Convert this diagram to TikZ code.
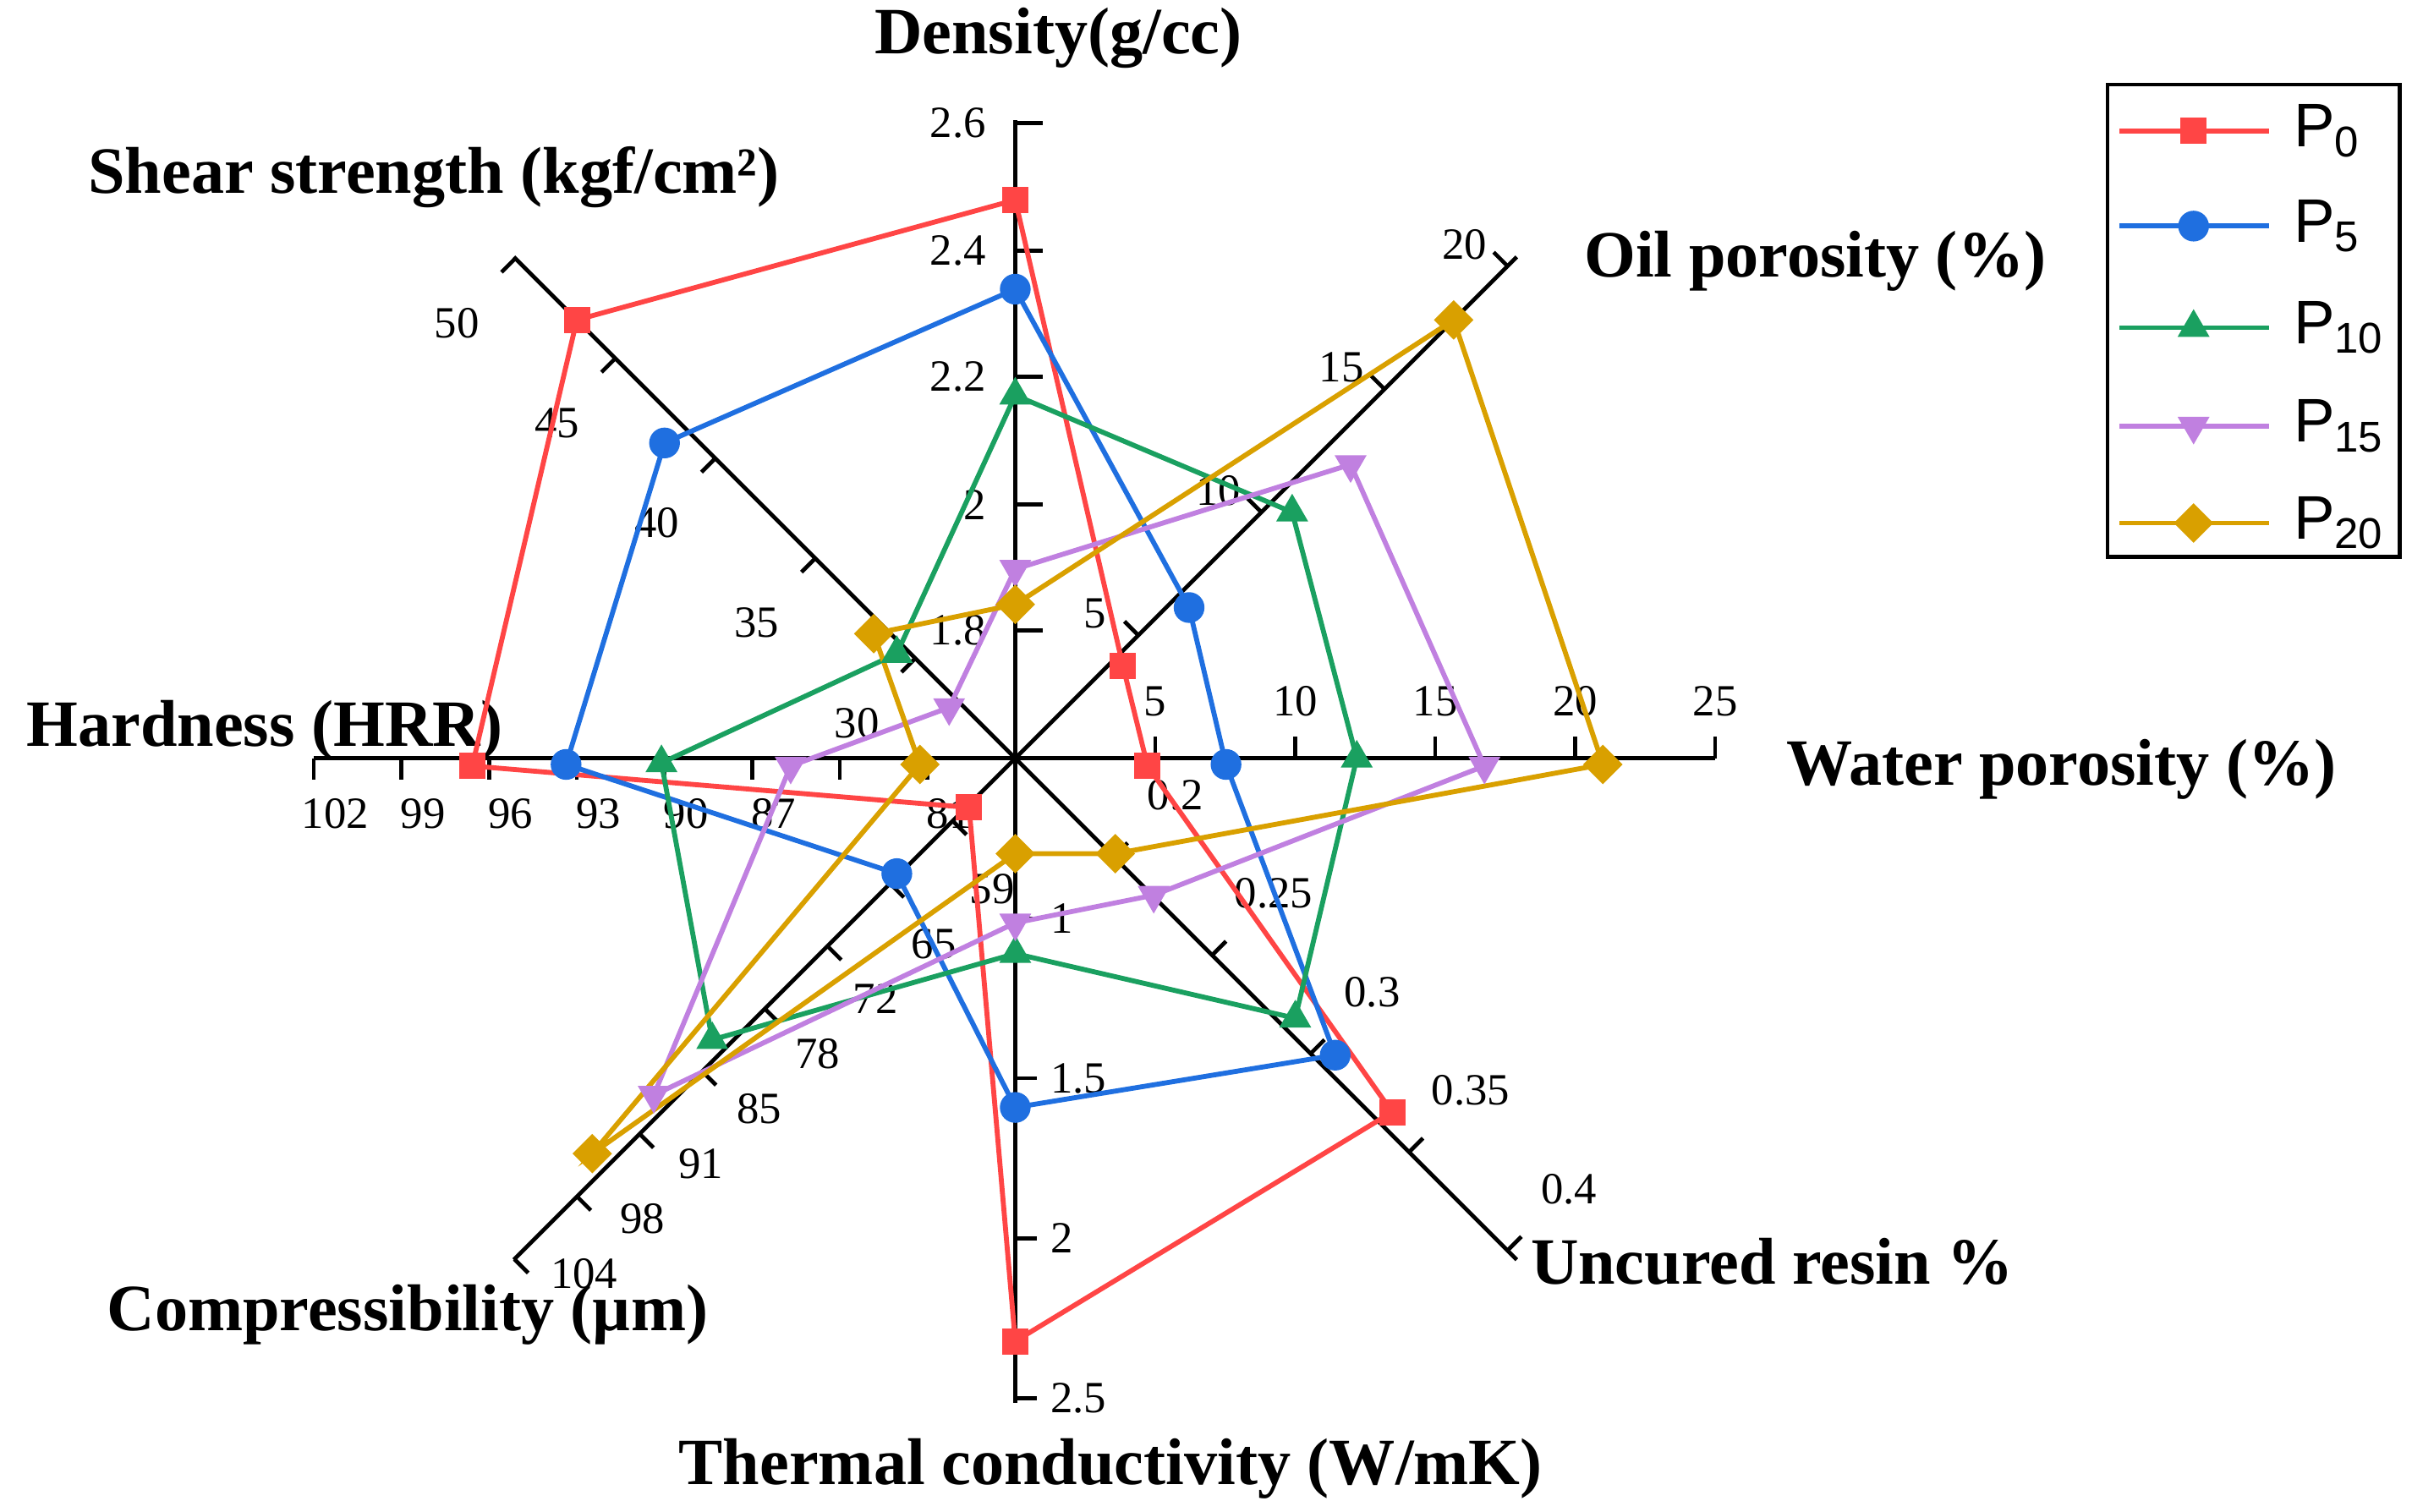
\documentclass[tikz,border=0pt]{standalone}
\usepackage{fontspec}
\setmainfont{Liberation Serif}
\newfontfamily\lsans{Liberation Sans}
\usetikzlibrary{shapes.geometric}
\definecolor{cA}{HTML}{FF4545}
\definecolor{cB}{HTML}{1F6FE0}
\definecolor{cC}{HTML}{1AA060}
\definecolor{cD}{HTML}{C080E0}
\definecolor{cE}{HTML}{D9A000}
\begin{document}
\begin{tikzpicture}[x=0.5pt,y=-0.5pt,
 ax/.style={line width=1.3pt,black},
 tk/.style={font=\fontsize{14.5}{14.5}\selectfont},
 ttl/.style={font=\bfseries\fontsize{21.5}{21.5}\selectfont},
 ser/.style={line width=1.6pt},
 sq/.style={rectangle,fill,draw=none,minimum size=8.5pt,inner sep=0},
 ci/.style={circle,fill,draw=none,minimum size=10pt,inner sep=0},
 tu/.style={regular polygon,regular polygon sides=3,fill,draw=none,minimum size=12pt,inner sep=0},
 td/.style={regular polygon,regular polygon sides=3,shape border rotate=180,fill,draw=none,minimum size=12pt,inner sep=0},
 di/.style={diamond,fill,draw=none,minimum size=13pt,inner sep=0}]
\useasboundingbox (0,0) rectangle (1568,983);
\coordinate (O) at (660,493);
% axes
\draw[ax] (O) -- (660,78);
\draw[ax] (O) -- (986,167);
\draw[ax] (O) -- (1115,493);
\draw[ax] (O) -- (986,819);
\draw[ax] (O) -- (660,912);
\draw[ax] (O) -- (334,819);
\draw[ax] (O) -- (204,493);
\draw[ax] (O) -- (334,167);
% density ticks
\foreach \v/\y in {1.8/410,2/328,2.2/245,2.4/163,2.6/80}{
 \draw[ax] (660,\y) -- (678,\y);
 \node[tk,anchor=east] at (648,\y) {\v};}
% oil
\foreach \v/\k in {5/1,10/2,15/3,20/4}{
 \draw[ax] (660+80*\k,493-80*\k) -- ++(-9,-9);
 \node[tk] at (660+80*\k-28,493-80*\k-14) {\v};}
% water
\foreach \v/\k in {5/1,10/2,15/3,20/4,25/5}{
 \draw[ax] (660+91*\k,493) -- ++(0,-14);
 \node[tk,anchor=south] at (660+91*\k,473) {\v};}
% uncured
\foreach \v/\k in {0.2/1,0.25/2,0.3/3,0.35/4,0.4/5}{
 \draw[ax] (660+64*\k,493+64*\k) -- ++(9,-9);
 \node[tk] at (660+64*\k+40,493+64*\k-40) {\v};}
% thermal
\foreach \v/\k in {1/1,1.5/2,2/3,2.5/4}{
 \draw[ax] (660,493+104*\k) -- ++(14,0);
 \node[tk,anchor=west] at (676,493+104*\k) {\v};}
% compressibility
\foreach \k in {1,...,8}{
 \draw[ax] (660-40.7*\k,493+40.7*\k) -- ++(9,9);}
\foreach \v/\k in {59/0,65/1,72/2,78/3,85/4,91/5,98/6,104/7}{
 \node[tk] at (645-37.9*\k,578+35.7*\k) {\v};}
% hardness
\foreach \k in {1,...,8}{
 \draw[ax] (660-57*\k,493) -- ++(0,14);}
\foreach \v/\k in {81/1,87/3,90/4,93/5,96/6,99/7,102/8}{
 \node[tk,anchor=north] at (660-57*\k+14,512) {\v};}
% shear
\foreach \v/\k in {30/1,35/2,40/3,45/4,50/5}{
 \draw[ax] (660-65*\k,493-65*\k) -- ++(-9,9);
 \node[tk] at (660-65*\k-38,493-65*\k+42) {\v};}
% titles
\node[ttl] (t1) at (688,25) {Density(g/cc)};
\node[ttl] (t2) at (1180,170) {Oil porosity (\%)};
\node[ttl] (t3) at (1340,500) {Water porosity (\%)};
\node[ttl] (t4) at (1152,820) {Uncured resin \%};
\node[ttl] (t5) at (722,955) {Thermal conductivity (W/mK)};
\node[ttl] (t6) at (265,855) {Compressibility (µm)};
\node[ttl] (t7) at (172,475) {Hardness (HRR)};
\node[ttl] (t8) at (282,115) {Shear strength (kgf/cm²)};
% series
\draw[ser,cA] (660,130) coordinate (a1) -- (730,433) coordinate (a2) -- (746,498) coordinate (a3) -- (905,723) coordinate (a4) -- (660,872) coordinate (a5) -- (630,525) coordinate (a6) -- (307,498) coordinate (a7) -- (375,208) coordinate (a8) -- cycle;
\draw[ser,cB] (660,188) coordinate (b1) -- (773,395) coordinate (b2) -- (797,497) coordinate (b3) -- (868,686) coordinate (b4) -- (660,720) coordinate (b5) -- (583,568) coordinate (b6) -- (368,497) coordinate (b7) -- (432,288) coordinate (b8) -- cycle;
\draw[ser,cC] (660,257) coordinate (c1) -- (840,333) coordinate (c2) -- (882,493) coordinate (c3) -- (842,662) coordinate (c4) -- (660,620) coordinate (c5) -- (463,676) coordinate (c6) -- (430,496) coordinate (c7) -- (583,425) coordinate (c8) -- cycle;
\draw[ser,cD] (660,370) coordinate (d1) -- (878,302) coordinate (d2) -- (965,498) coordinate (d3) -- (750,582) coordinate (d4) -- (660,600) coordinate (d5) -- (425,712) coordinate (d6) -- (514,498) coordinate (d7) -- (617,460) coordinate (d8) -- cycle;
\draw[ser,cE] (660,393) coordinate (e1) -- (945,208) coordinate (e2) -- (1042,497) coordinate (e3) -- (725,555) coordinate (e4) -- (660,555) coordinate (e5) -- (385,750) coordinate (e6) -- (598,497) coordinate (e7) -- (568,412) coordinate (e8) -- cycle;
\foreach \i in {1,...,8}{
 \node[sq,cA] at (a\i) {};
 \node[ci,cB] at (b\i) {};
 \node[tu,cC] at (c\i) {};
 \node[td,cD] at (d\i) {};
 \node[di,cE] at (e\i) {};}
% legend
\draw[line width=1.3pt] (1370,55) rectangle (1560,362);
\foreach \y/\c/\s/\t in {85/cA/sq/0,147/cB/ci/5,213/cC/tu/10,277/cD/td/15,340/cE/di/20}{
 \draw[ser,\c] (1378,\y) -- (1475,\y);
 \node[\s,\c] at (1426,\y) {};
 \node[anchor=west,font=\lsans\fontsize{20}{20}\selectfont] at (1484,\y) {P\textsubscript{\t}};}
\end{tikzpicture}
\end{document}
